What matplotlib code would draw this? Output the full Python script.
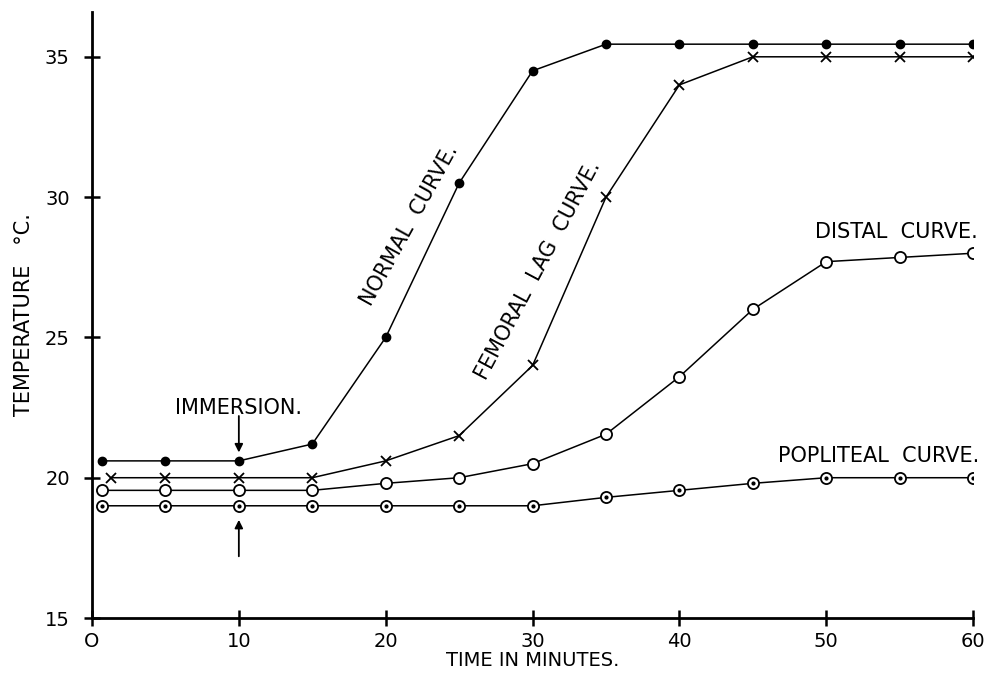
import matplotlib
matplotlib.use("Agg")
import matplotlib.pyplot as plt

plt.rcParams['font.family'] = ['DejaVu Sans']

# time in minutes
t_first = [0.7, 5, 10, 15, 20, 25, 30, 35, 40, 45, 50, 55, 60]
t_fem = [1.3, 5, 10, 15, 20, 25, 30, 35, 40, 45, 50, 55, 60]

normal = [20.6, 20.6, 20.6, 21.2, 25.0, 30.5, 34.5, 35.45, 35.45, 35.45, 35.45, 35.45, 35.45]
femoral = [20.0, 20.0, 20.0, 20.0, 20.6, 21.5, 24.0, 30.0, 34.0, 35.0, 35.0, 35.0, 35.0]
distal = [19.55, 19.55, 19.55, 19.55, 19.8, 20.0, 20.5, 21.55, 23.6, 26.0, 27.7, 27.85, 28.0]
popliteal = [19.0, 19.0, 19.0, 19.0, 19.0, 19.0, 19.0, 19.3, 19.55, 19.8, 20.0, 20.0, 20.0]

xticks = [0, 10, 20, 30, 40, 50, 60]
yticks = [15, 20, 25, 30, 35]

fig = plt.figure(figsize=(9.89, 6.88), dpi=100)
ax = fig.add_axes([0.093, 0.1017, 0.891, 0.881])

lw = 1.1
ax.plot(t_first, normal, color='black', lw=lw, marker='o', ms=6)
ax.plot(t_fem, femoral, color='black', lw=lw, marker='x', ms=7, mew=1.3)
ax.plot(t_first, distal, color='black', lw=lw, marker='o', ms=8, mfc='white', mew=1.3)
ax.plot(t_first, popliteal, color='black', lw=lw, marker='o', ms=8, mfc='white', mew=1.3)
ax.plot(t_first, popliteal, color='black', lw=0, marker='o', ms=2)

ax.set_xlim(0, 60)
ax.set_ylim(15, 36.6)
ax.set_xticks(xticks)
ax.set_yticks(yticks)
ax.set_xticklabels(['O'] + [str(v) for v in xticks[1:]])
for s in ['top', 'right']:
    ax.spines[s].set_visible(False)
for s in ['left', 'bottom']:
    ax.spines[s].set_linewidth(2)
ax.tick_params(direction='inout', length=12, width=1.8, labelsize=14)
ax.tick_params(axis='x', pad=4)
ax.tick_params(axis='y', pad=10)

ax.set_xlabel('TIME IN MINUTES.', fontsize=14, labelpad=0)
ax.set_ylabel('TEMPERATURE   °C.', fontsize=15, labelpad=8)

fs = 15
ax.text(21.6, 29.0, 'NORMAL  CURVE.', rotation=61, ha='center', va='center', fontsize=fs)
ax.text(30.4, 27.4, 'FEMORAL  LAG  CURVE.', rotation=62, ha='center', va='center', fontsize=fs)
ax.text(60.3, 28.4, 'DISTAL  CURVE.', ha='right', va='bottom', fontsize=fs)
ax.text(60.4, 20.4, 'POPLITEAL  CURVE.', ha='right', va='bottom', fontsize=fs)
ax.text(10, 22.5, 'IMMERSION.', ha='center', va='center', fontsize=fs)

arrow = dict(arrowstyle='-|>', color='black', lw=1.3, mutation_scale=12, shrinkA=0, shrinkB=0)
ax.annotate('', xy=(10, 20.9), xytext=(10, 22.2), arrowprops=arrow)
ax.annotate('', xy=(10, 18.5), xytext=(10, 17.2), arrowprops=arrow)

fig.savefig('out.png', dpi=100)
